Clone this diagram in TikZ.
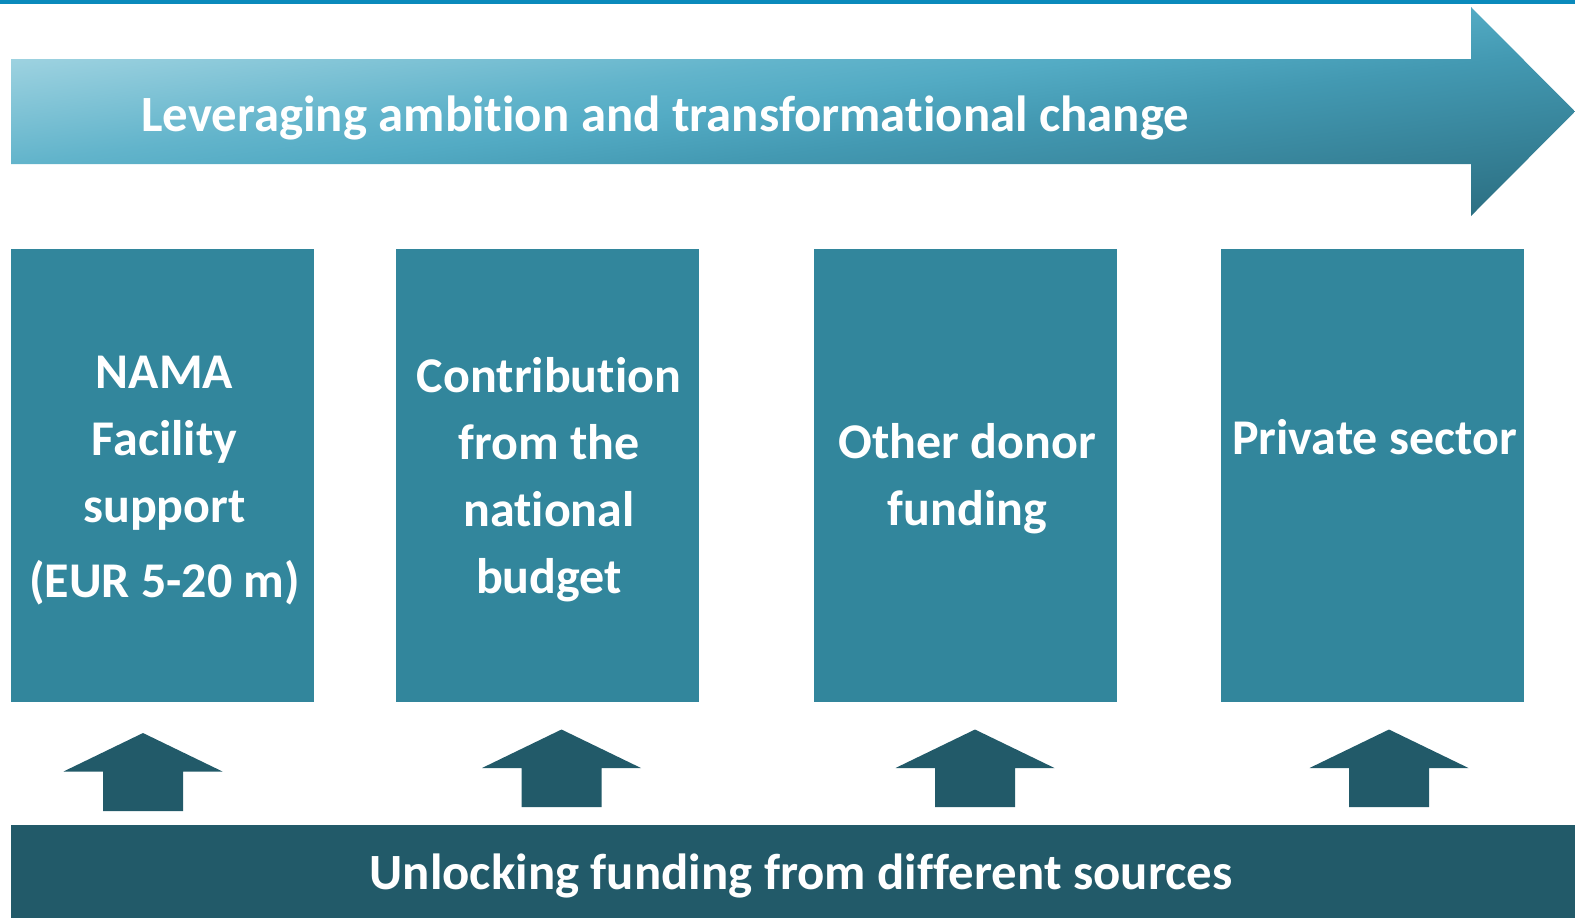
\documentclass[tikz,border=0pt]{standalone}
\usepackage{fontspec}
\setmainfont[Ligatures={NoCommon}]{Carlito}
\definecolor{topline}{HTML}{0A8ABC}
\definecolor{boxteal}{HTML}{32869C}
\definecolor{darkteal}{HTML}{225A69}
\definecolor{bandA}{HTML}{B2DCE7}
\definecolor{bandB}{HTML}{9DD2E0}
\definecolor{bandC}{HTML}{62B4CB}
\definecolor{bandD}{HTML}{53ABC4}
\definecolor{bandE}{HTML}{4399B2}
\definecolor{bandF}{HTML}{2A6C7F}
% light at the top, dark at the bottom; the middle 25bp--75bp is what is seen
\pgfdeclareverticalshading{bandshade}{100bp}{color(0bp)=(bandF); color(25bp)=(bandF); color(45bp)=(bandE); color(51.5bp)=(bandD); color(56.25bp)=(bandC); color(68.75bp)=(bandB); color(75bp)=(bandA); color(100bp)=(bandA)}
\begin{document}
\begin{tikzpicture}[x=0.5pt,y=-0.5pt,
	fund/.style={fill=boxteal, minimum width=151.5pt, minimum height=226.5pt, inner sep=0pt, outer sep=0pt},
	fundtext/.style={text=white, font=\bfseries\fontsize{25}{33.5}\selectfont, inner sep=0pt, anchor=base},
	bandtext/.style={fundtext, font=\bfseries\fontsize{25.4}{33.5}\selectfont},
	uparrow/.style={fill=darkteal}]
		%\draw [help lines] (0,0) grid (1575,918);
		\useasboundingbox (0,0) rectangle (1575,918);
		\def\boxy{475.5}
		\def\hw{79.5}	% half width of arrow head
		\def\sw{40}		% half width of shaft
		\def\tilt{7.61}	% atan(209/1564)
		% rule at the top
			\fill [topline] (0,0) rectangle (1575,4);
		% leveraging arrow
		\begin{scope}
			\clip (11,59) -- (1471,59) -- (1471,7) -- (1575,111.5) -- (1471,216) -- (1471,164) -- (11,164) -- cycle;
			\begin{scope}[transform canvas={rotate around={\tilt:(793,111.5)}}]
				\path [shading=bandshade] (-57,-95.5) rectangle (1643,318.5);
			\end{scope}
		\end{scope}
			\node [bandtext, anchor=base west] (lever) at (141,131) {Leveraging ambition and transformational change};
		% funding sources
			\node [fund] (nama) at (162.5,\boxy) {};
			\node [fund] (budget) at (547.5,\boxy) {};
			\node [fund] (donor) at (965.5,\boxy) {};
			\node [fund] (private) at (1372.5,\boxy) {};
			\node [fundtext] (namatext) at (164.5,388) {\begin{tabular}[t]{@{}c@{}}NAMA\\Facility\\support\\[4pt](EUR 5-20 m)\end{tabular}};
			\node [fundtext] (budgettext) at (549,392) {\begin{tabular}[t]{@{}c@{}}Contribution\\from the\\national\\budget\end{tabular}};
			\node [fundtext] (donortext) at (967.5,458) {\begin{tabular}[t]{@{}c@{}}Other donor\\funding\end{tabular}};
			\node [fundtext] (privatetext) at (1374.5,454) {Private sector};
		% small arrows
			\fill [uparrow] (143,733) -- (143+\hw,771.5) -- (143+\sw,771.5) -- (143+\sw,811) -- (143-\sw,811) -- (143-\sw,771.5) -- (143-\hw,771.5) -- cycle;
			\fill [uparrow] (561.5,729.5) -- (561.5+\hw,768) -- (561.5+\sw,768) -- (561.5+\sw,807) -- (561.5-\sw,807) -- (561.5-\sw,768) -- (561.5-\hw,768) -- cycle;
			\fill [uparrow] (975,729.5) -- (975+\hw,768) -- (975+\sw,768) -- (975+\sw,807) -- (975-\sw,807) -- (975-\sw,768) -- (975-\hw,768) -- cycle;
			\fill [uparrow] (1389,729.5) -- (1389+\hw,768) -- (1389+\sw,768) -- (1389+\sw,807) -- (1389-\sw,807) -- (1389-\sw,768) -- (1389-\hw,768) -- cycle;
		% unlocking bar
			\fill [darkteal] (11,825) rectangle (1575,918);
			\node [bandtext] (unlock) at (801,889) {Unlocking funding from different sources};
	\end{tikzpicture}
\end{document}
